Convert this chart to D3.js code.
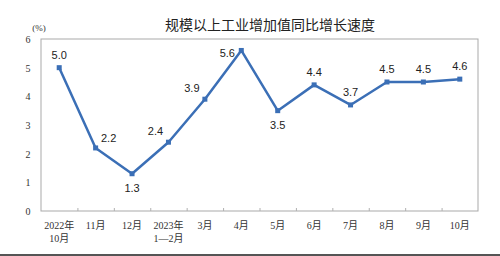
<!DOCTYPE html>
<html>
<head>
<meta charset="utf-8">
<script src="https://cdn.jsdelivr.net/npm/d3@7"></script>
<style>
  body { margin: 0; background: #fff; }
  svg { display: block; }
</style>
</head>
<body>
<svg id="chart" width="500" height="256"></svg>
<script>
const categories = ["2022年\n10月", "11月", "12月", "2023年\n1—2月", "3月", "4月", "5月", "6月", "7月", "8月", "9月", "10月"]
const values = [5.0, 2.2, 1.3, 2.4, 3.9, 5.6, 3.5, 4.4, 3.7, 4.5, 4.5, 4.6]
const labelSide = ["above", "right", "below", "leftAbove", "leftAbove", "left", "below", "above", "above", "above", "above", "above"]
const yTicks = [0, 1, 2, 3, 4, 5, 6]
const title = "规模以上工业增加值同比增长速度"

const svg = d3.select("#chart")
const m = {left: 41, right: 22, top: 39, bottom: 45}
const W = 500, H = 256

const x = d3.scaleBand().domain(categories).range([m.left, W - m.right])
const y = d3.scaleLinear().domain([0, 6]).range([H - m.bottom, m.top])

// plot frame
svg.append("rect")
  .attr("x", m.left).attr("y", m.top)
  .attr("width", W - m.left - m.right).attr("height", H - m.top - m.bottom)
  .attr("fill", "none").attr("stroke", "#a9a9a9").attr("stroke-width", 1)

// x ticks at band boundaries, pointing inward
const bounds = categories.slice(1).map(c => x(c))
svg.append("g").selectAll("line").data(bounds).enter().append("line")
  .attr("x1", d => d + 0.5).attr("x2", d => d + 0.5)
  .attr("y1", y(0)).attr("y2", y(0) - 3)
  .attr("stroke", "#b0b0b0")

// y tick labels
svg.append("g").selectAll("text").data(yTicks).enter().append("text")
  .attr("x", 28).attr("y", d => y(d) + 4)
  .attr("text-anchor", "middle")
  .attr("font-family", "'Liberation Serif', 'DejaVu Serif', serif")
  .attr("font-size", 10).attr("fill", "#333")
  .text(d => d)

svg.append("text")
  .attr("x", 39).attr("y", 31)
  .attr("text-anchor", "middle")
  .attr("font-family", "'Liberation Serif', serif")
  .attr("font-size", 9).attr("fill", "#333")
  .text("(%)")

// title
svg.append("text")
  .attr("x", 270).attr("y", 30)
  .attr("text-anchor", "middle")
  .attr("font-family", "'Noto Sans CJK SC', sans-serif")
  .attr("font-size", 14).attr("fill", "#222")
  .text(title)

// x labels
const xl = svg.append("g").selectAll("text").data(categories).enter().append("text")
  .attr("text-anchor", "middle")
  .attr("font-family", "'Liberation Serif', 'Noto Sans CJK SC', serif")
  .attr("font-size", 10).attr("fill", "#333")
xl.each(function (d) {
  const t = d3.select(this)
  d.split("\n").forEach((line, i) => {
    t.append("tspan")
      .attr("x", x(d) + x.bandwidth() / 2)
      .attr("y", 229 + i * 13)
      .text(line)
  })
})

// line + markers
const cx = i => x(categories[i]) + x.bandwidth() / 2
const line = d3.line().x((d, i) => cx(i)).y(d => y(d))
svg.append("path").datum(values)
  .attr("d", line)
  .attr("fill", "none").attr("stroke", "#3b6fb6").attr("stroke-width", 2.5)
  .attr("stroke-linejoin", "round")

svg.append("g").selectAll("rect").data(values).enter().append("rect")
  .attr("x", (d, i) => cx(i) - 2.5).attr("y", d => y(d) - 2.5)
  .attr("width", 5).attr("height", 5)
  .attr("fill", "#3b6fb6")

// value labels
const off = {
  above: [0, -9], below: [0, 18], right: [13, -6], left: [-14, 7], leftAbove: [-13, -7]
}
svg.append("g").selectAll("text").data(values).enter().append("text")
  .attr("x", (d, i) => cx(i) + off[labelSide[i]][0])
  .attr("y", (d, i) => y(d) + off[labelSide[i]][1])
  .attr("text-anchor", "middle")
  .attr("font-family", "'Liberation Sans', Arial, sans-serif")
  .attr("font-size", 11).attr("fill", "#222")
  .text(d => d.toFixed(1))

// dark strip at bottom edge
svg.append("rect").attr("x", 0).attr("y", 254).attr("width", W).attr("height", 2).attr("fill", "#555")
</script>
</body>
</html>
